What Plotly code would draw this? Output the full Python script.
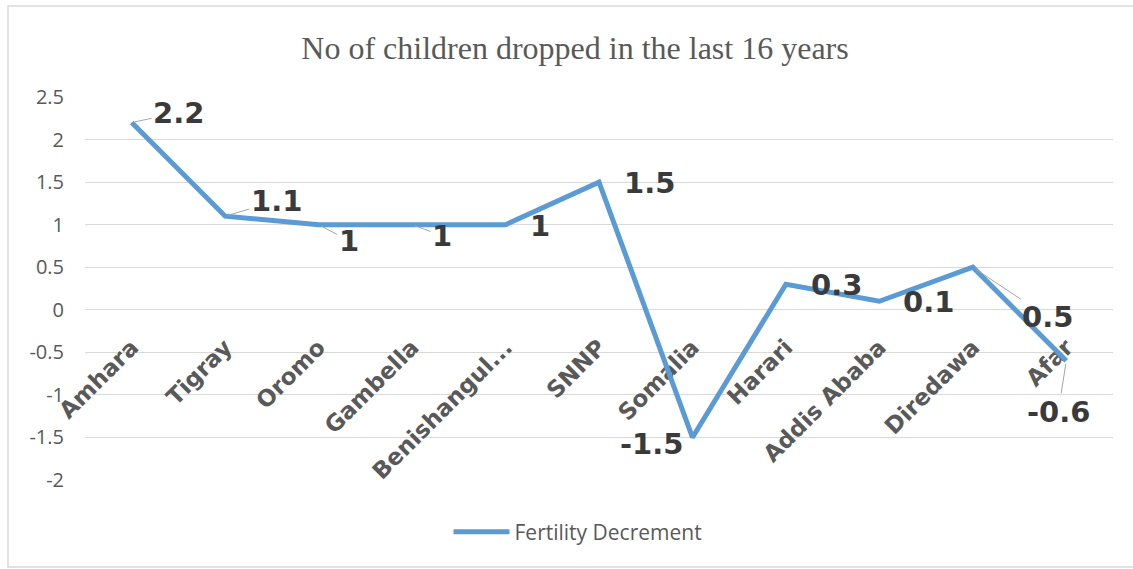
import plotly.graph_objects as go

# Data
regions = ["Amhara", "Tigray", "Oromo", "Gambella", "Benishangul...", "SNNP",
           "Somalia", "Harari", "Addis Ababa", "Diredawa", "Afar"]
decrement = [2.2, 1.1, 1, 1, 1, 1.5, -1.5, 0.3, 0.1, 0.5, -0.6]
y_ticks = [-2, -1.5, -1, -0.5, 0, 0.5, 1, 1.5, 2, 2.5]
series_name = "Fertility Decrement"
title_text = "No of children dropped in the last 16 years"

# Page geometry (pixels)
W, H = 1133, 569
ML, MR, MT, MB = 85, 20, 97, 89
PW, PH = W - ML - MR, H - MT - MB
Y_MIN, Y_MAX = y_ticks[0], y_ticks[-1]


def paper_x(px):
    return (px - ML) / PW


def paper_y(py):
    return (H - MB - py) / PH


BLUE = "#5B9BD5"
GRID = "#D9D9D9"
TXT = "#595959"
LBL = "#3A3A3A"

# label placement per point: pixel offset from the point, and whether a leader line is drawn
label_offsets = [
    (47, -10, True), (51, -15, True), (30, 16, True), (30, 11, True),
    (34, 1, False), (50, 1, False), (-41, 7, False), (51, 1, False),
    (49, 1, False), (75, 50, True), (-8, 51, True),
]

fig = go.Figure()
fig.add_trace(go.Scatter(
    x=regions, y=decrement, mode="lines", name=series_name,
    line=dict(color=BLUE, width=5), showlegend=True,
))

for cat, val, (dx, dy, leader) in zip(regions, decrement, label_offsets):
    txt = f"{val:g}"
    common = dict(x=cat, y=val, xref="x", yref="y", text=txt,
                  font=dict(family="DejaVu Sans", size=29, color=LBL, weight="bold"))
    if leader:
        fig.add_annotation(**common, showarrow=True, ax=dx, ay=dy,
                           arrowhead=0, arrowwidth=1, arrowcolor="#A6A6A6",
                           standoff=3)
    else:
        fig.add_annotation(**common, showarrow=False, xshift=dx, yshift=-dy)

zero_pos = (0 - Y_MIN) / (Y_MAX - Y_MIN)

fig.update_layout(
    width=W, height=H,
    margin=dict(l=ML, r=MR, t=MT, b=MB, pad=0),
    paper_bgcolor="white", plot_bgcolor="white",
    title=dict(text=title_text, x=575 / W, xref="container", xanchor="center",
               y=1 - 48 / H, yref="container", yanchor="middle",
               font=dict(family="Liberation Serif", size=32, color=TXT)),
    xaxis=dict(type="category", categoryorder="array", categoryarray=regions,
               range=[-0.5, len(regions) - 0.5], anchor="free", position=zero_pos,
               showgrid=False, showline=False, zeroline=False,
               ticks="outside", ticklen=14, tickcolor="rgba(0,0,0,0)",
               tickangle=-45, layer="below traces", automargin=False,
               tickfont=dict(family="DejaVu Sans", size=23, color=TXT, weight="bold")),
    yaxis=dict(range=[Y_MIN, Y_MAX], tickvals=y_ticks,
               ticktext=[f"{v:g}" for v in y_ticks],
               showgrid=True, gridcolor=GRID, gridwidth=1.3,
               zeroline=False, showline=False, ticks="",
               ticklabelstandoff=20, automargin=False,
               tickfont=dict(family="Open Sans", size=20, color=TXT)),
    legend=dict(orientation="h", x=paper_x(578), xanchor="center",
                y=paper_y(532), yanchor="middle", itemwidth=56,
                font=dict(family="Open Sans", size=21, color=TXT),
                bgcolor="rgba(0,0,0,0)"),
    shapes=[dict(type="rect", xref="paper", yref="paper",
                 x0=paper_x(8), x1=paper_x(W + 5),
                 y0=paper_y(567), y1=paper_y(6),
                 line=dict(color=GRID, width=1.5), layer="below")],
)

fig.write_html("out.html")
